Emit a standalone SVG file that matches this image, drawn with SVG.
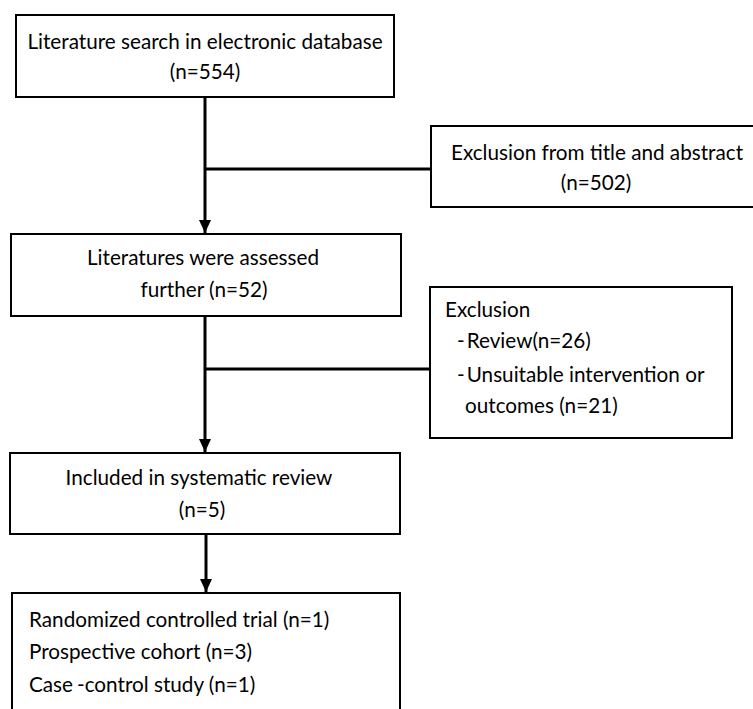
<svg xmlns="http://www.w3.org/2000/svg" width="753" height="709" viewBox="0 0 753 709">
<style>
.box{fill:#fff;stroke:#000;stroke-width:2}
.t{font-family:Lato,"Open Sans","Liberation Sans",sans-serif;font-size:20.7px;fill:#000}
.c{text-anchor:middle}
.ln{stroke:#000;stroke-width:3;fill:none}
</style>
<defs>
<marker id="arr" markerUnits="userSpaceOnUse" markerWidth="14" markerHeight="14" viewBox="0 0 14 14" refX="13" refY="7" orient="auto">
<path d="M0,1 L13,7 L0,13 Z" fill="#000"/>
</marker>
</defs>
<rect width="753" height="709" fill="#fff"/>
<g id="connectors">
<line class="ln" x1="205" y1="97" x2="205" y2="233" marker-end="url(#arr)"/>
<line class="ln" x1="205" y1="169" x2="431" y2="169"/>
<line class="ln" x1="205" y1="316" x2="205" y2="452" marker-end="url(#arr)"/>
<line class="ln" x1="205" y1="369" x2="430" y2="369"/>
<line class="ln" x1="206" y1="534" x2="206" y2="592" marker-end="url(#arr)"/>
</g>
<g id="node-search">
<rect class="box" x="16" y="15" width="378" height="82"/>
<text class="t c" x="205" y="49">Literature search in electronic database</text>
<text class="t c" x="205" y="79">(n=554)</text>
</g>
<g id="node-excl1">
<rect class="box" x="431" y="126" width="333" height="81"/>
<text class="t c" x="597" y="160">Exclusion from title and abstract</text>
<text class="t c" x="596" y="190">(n=502)</text>
</g>
<g id="node-assessed">
<rect class="box" x="11" y="234" width="390" height="82"/>
<text class="t c" x="203" y="265">Literatures were assessed</text>
<text class="t c" x="204" y="297">further (n=52)</text>
</g>
<g id="node-excl2">
<rect class="box" x="430" y="287" width="302" height="151"/>
<text class="t" x="445" y="317">Exclusion</text>
<text class="t" x="457" y="348">-<tspan dx="2">Review(n=26)</tspan></text>
<text class="t" x="457" y="382">-<tspan dx="2">Unsuitable intervention or</tspan></text>
<text class="t" x="465" y="413">outcomes (n=21)</text>
</g>
<g id="node-included">
<rect class="box" x="10" y="453" width="390" height="81"/>
<text class="t c" x="199" y="485">Included in systematic review</text>
<text class="t c" x="202" y="517">(n=5)</text>
</g>
<g id="node-types">
<rect class="box" x="12" y="593" width="388" height="130"/>
<text class="t" x="29" y="627">Randomized controlled trial (n=1)</text>
<text class="t" x="29" y="659">Prospective cohort (n=3)</text>
<text class="t" x="29" y="692">Case<tspan dx="4">-control study (n=1)</tspan></text>
</g>
</svg>
